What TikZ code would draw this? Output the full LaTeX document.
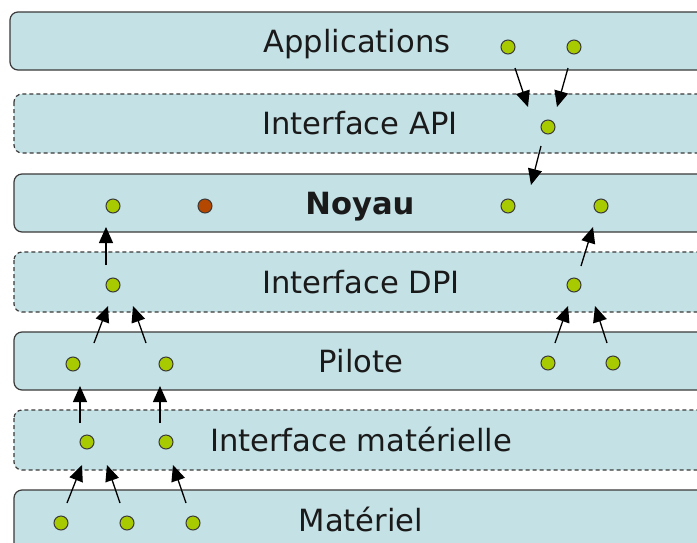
\documentclass[tikz,border=0pt]{standalone}
\usepackage{fontspec}
\setmainfont{DejaVu Sans}
\usetikzlibrary{arrows.meta}
\definecolor{layerfill}{HTML}{C4E1E5}
\definecolor{layerline}{HTML}{3A3A3A}
\definecolor{dotgreen}{HTML}{A8CA00}
\definecolor{dotorange}{HTML}{B54800}
\definecolor{txt}{HTML}{1A1A1A}
\tikzset{
  solidlayer/.style={fill=layerfill, draw=layerline, line width=1.2pt, rounded corners=8pt},
  dashedlayer/.style={solidlayer, dash pattern=on 4pt off 3pt},
  label/.style={anchor=base, inner sep=0pt, text=txt, font=\fontsize{30.6}{36}\selectfont},
  dot/.style={circle, draw=layerline, line width=1pt, fill=dotgreen, minimum size=14pt, inner sep=0pt},
  hotdot/.style={dot, fill=dotorange},
  arr/.style={draw=black, line width=1.3pt, -{Triangle[length=16pt,width=14pt]}}
}
\begin{document}
\begin{tikzpicture}[x=1pt,y=-1pt]
\useasboundingbox (0,0) rectangle (697,542);
\clip (0,0) rectangle (697,542);
\fill[white] (0,0) rectangle (697,542);
% layers
\path[solidlayer]  (10,12)  rectangle (730,70);
\path[dashedlayer] (14,94)  rectangle (730,153);
\path[solidlayer]  (14,174) rectangle (730,232);
\path[dashedlayer] (14,252) rectangle (730,312);
\path[solidlayer]  (14,332) rectangle (730,390);
\path[dashedlayer] (14,410) rectangle (730,470);
\path[solidlayer]  (14,490) rectangle (730,580);
% labels
\node[label] (tapp) at (357,52)  {Applications};
\node[label] (tapi) at (360,134.5) {Interface API};
\node[label, font=\fontsize{30.6}{36}\selectfont\bfseries] (tnoy) at (360,214) {Noyau};
\node[label] (tdpi) at (361,293) {Interface DPI};
\node[label] (tpil) at (361,372) {Pilote};
\node[label] (tim)  at (361,451) {Interface matérielle};
\node[label] (tmat) at (361,531) {Matériel};
% dots
\node[dot] (a1) at (508,47) {};
\node[dot] (a2) at (574,47) {};
\node[dot] (p1) at (548,127) {};
\node[dot] (n1) at (113,206) {};
\node[hotdot] (n2) at (205,206) {};
\node[dot] (n3) at (508,206) {};
\node[dot] (n4) at (601,206) {};
\node[dot] (d1) at (113,285) {};
\node[dot] (d2) at (574,285) {};
\node[dot] (l1) at (73,364) {};
\node[dot] (l2) at (166,364) {};
\node[dot] (l3) at (548,363) {};
\node[dot] (l4) at (613,363) {};
\node[dot] (i1) at (87,442) {};
\node[dot] (i2) at (166,442) {};
\node[dot] (m1) at (61,523) {};
\node[dot] (m2) at (127,523) {};
\node[dot] (m3) at (193,523) {};
% arrows
\draw[arr] ([shift={(7,21)}]a1.center) -- ([shift={(-20,-20)}]p1.center);
\draw[arr] ([shift={(-6,21)}]a2.center) -- ([shift={(9,-20)}]p1.center);
\draw[arr] ([shift={(-7,19)}]p1.center) -- ([shift={(23,-21)}]n3.center);
\draw[arr] ([shift={(-7,-20)}]d1.center) -- ([shift={(-7,21)}]n1.center);
\draw[arr] ([shift={(21,-21)}]l1.center) -- ([shift={(-5,21)}]d1.center);
\draw[arr] ([shift={(-20,-21)}]l2.center) -- ([shift={(20,21)}]d1.center);
\draw[arr] ([shift={(7,-19)}]d2.center) -- ([shift={(-8,21)}]n4.center);
\draw[arr] ([shift={(7,-20)}]l3.center) -- ([shift={(-6,21)}]d2.center);
\draw[arr] ([shift={(-6,-20)}]l4.center) -- ([shift={(21,21)}]d2.center);
\draw[arr] ([shift={(-7,-19)}]i1.center) -- ([shift={(7,22)}]l1.center);
\draw[arr] ([shift={(-6,-19)}]i2.center) -- ([shift={(-6,22)}]l2.center);
\draw[arr] ([shift={(6,-20)}]m1.center) -- ([shift={(-5,23)}]i1.center);
\draw[arr] ([shift={(-7,-20)}]m2.center) -- ([shift={(20,23)}]i1.center);
\draw[arr] ([shift={(-7,-20)}]m3.center) -- ([shift={(7,23)}]i2.center);
\end{tikzpicture}
\end{document}
